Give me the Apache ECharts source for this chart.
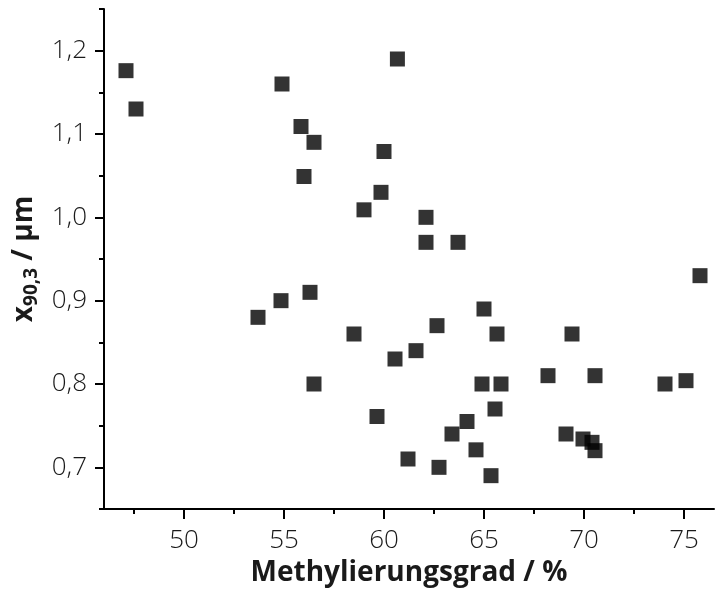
<!DOCTYPE html>
<html>
<head>
<meta charset="utf-8">
<script src="https://cdn.jsdelivr.net/npm/echarts@6/dist/echarts.min.js"></script>
<style>
  html, body { margin: 0; padding: 0; background: #fff; }
  #chart { width: 715px; height: 594px; }
</style>
</head>
<body>
<div id="chart"></div>
<script>
// Degree of methylation (%) for each sample
const methylierungsgrad = [
  47.1, 47.6, 54.9, 60.67, 55.85, 56.5, 60.0, 56.0, 59.85, 59.0,
  62.1, 62.1, 63.7, 75.8, 56.3, 65.0, 62.65, 58.5, 65.65, 69.4,
  61.6, 60.55, 56.5, 64.9, 65.85, 68.2, 70.55, 74.05, 75.1, 65.55,
  59.65, 64.15, 63.4, 69.1, 69.95, 70.4, 70.55, 64.6, 61.2, 62.75,
  65.35, 53.7, 54.85
];
// Particle size x90,3 (µm) for each sample
const x903 = [
  1.176, 1.13, 1.16, 1.19, 1.109, 1.09, 1.079, 1.049, 1.03, 1.009,
  1.0, 0.97, 0.97, 0.93, 0.91, 0.89, 0.87, 0.86, 0.86, 0.86,
  0.84, 0.83, 0.80, 0.80, 0.80, 0.81, 0.81, 0.80, 0.804, 0.77,
  0.761, 0.755, 0.74, 0.74, 0.734, 0.73, 0.72, 0.721, 0.71, 0.70,
  0.69, 0.88, 0.90
];

// Tick positions
const xMajorTicks = [50, 55, 60, 65, 70, 75];
const xMinorTicks = [47.5, 52.5, 57.5, 62.5, 67.5, 72.5];
const yMajorTicks = [0.7, 0.8, 0.9, 1.0, 1.1, 1.2];
const yMinorTicks = [0.65, 0.75, 0.85, 0.95, 1.05, 1.15, 1.25];

const X_MIN = 46, X_MAX = 76.5;
const Y_MIN = 0.65, Y_MAX = 1.25;

const FONT = '"Open Sans", "DejaVu Sans", sans-serif';
const TEXT_COLOR = '#1a1a1a';

const points = methylierungsgrad.map((v, i) => [v, x903[i]]);

const chart = echarts.init(document.getElementById('chart'), null, { renderer: 'canvas' });

const axisLine = { show: true, onZero: false, lineStyle: { color: '#000', width: 2 } };

chart.setOption({
  animation: false,
  backgroundColor: '#fff',
  grid: { left: 104, top: 9, width: 610, height: 500, containLabel: false, outerBoundsMode: 'none' },
  xAxis: [
    {
      type: 'value', min: X_MIN, max: X_MAX, position: 'bottom',
      name: 'Methylierungsgrad / %',
      nameLocation: 'middle', nameGap: 48,
      nameTextStyle: { fontFamily: FONT, fontSize: 28, fontWeight: 'bold', color: TEXT_COLOR },
      axisLine: axisLine,
      axisTick: { show: true, inside: false, length: 10, customValues: xMajorTicks,
                  lineStyle: { color: '#000', width: 2 } },
      axisLabel: { show: true, customValues: xMajorTicks, margin: 19,
                   fontFamily: FONT, fontSize: 26, fontWeight: 300, color: TEXT_COLOR },
      splitLine: { show: false }
    },
    {
      type: 'value', min: X_MIN, max: X_MAX, position: 'bottom',
      axisLine: { show: false },
      axisTick: { show: true, inside: false, length: 5, customValues: xMinorTicks,
                  lineStyle: { color: '#000', width: 2 } },
      axisLabel: { show: false },
      splitLine: { show: false }
    }
  ],
  yAxis: [
    {
      type: 'value', min: Y_MIN, max: Y_MAX, position: 'left',
      name: '{t|x}{s|90,3}{t| / µm}',
      nameLocation: 'middle', nameGap: 58, nameRotate: 90,
      nameTextStyle: {
        fontFamily: FONT, fontSize: 28, fontWeight: 'bold', color: TEXT_COLOR,
        rich: {
          t: { fontFamily: FONT, fontSize: 28, fontWeight: 'bold', color: TEXT_COLOR },
          s: { fontFamily: FONT, fontSize: 19, fontWeight: 'bold', color: TEXT_COLOR,
               verticalAlign: 'bottom', padding: [14, 0, 0, 0] }
        }
      },
      axisLine: axisLine,
      axisTick: { show: true, inside: false, length: 9, customValues: yMajorTicks,
                  lineStyle: { color: '#000', width: 2 } },
      axisLabel: { show: true, customValues: yMajorTicks, margin: 17,
                   fontFamily: FONT, fontSize: 26, fontWeight: 300, color: TEXT_COLOR,
                   formatter: v => v.toFixed(1).replace('.', ',') },
      splitLine: { show: false }
    },
    {
      type: 'value', min: Y_MIN, max: Y_MAX, position: 'left',
      axisLine: { show: false },
      axisTick: { show: true, inside: false, length: 5, customValues: yMinorTicks,
                  lineStyle: { color: '#000', width: 2 } },
      axisLabel: { show: false },
      splitLine: { show: false }
    }
  ],
  series: [
    {
      type: 'scatter',
      xAxisIndex: 0, yAxisIndex: 0,
      symbol: 'rect',
      symbolSize: 15,
      itemStyle: { color: '#000', opacity: 0.8 },
      data: points
    }
  ]
});
</script>
</body>
</html>
